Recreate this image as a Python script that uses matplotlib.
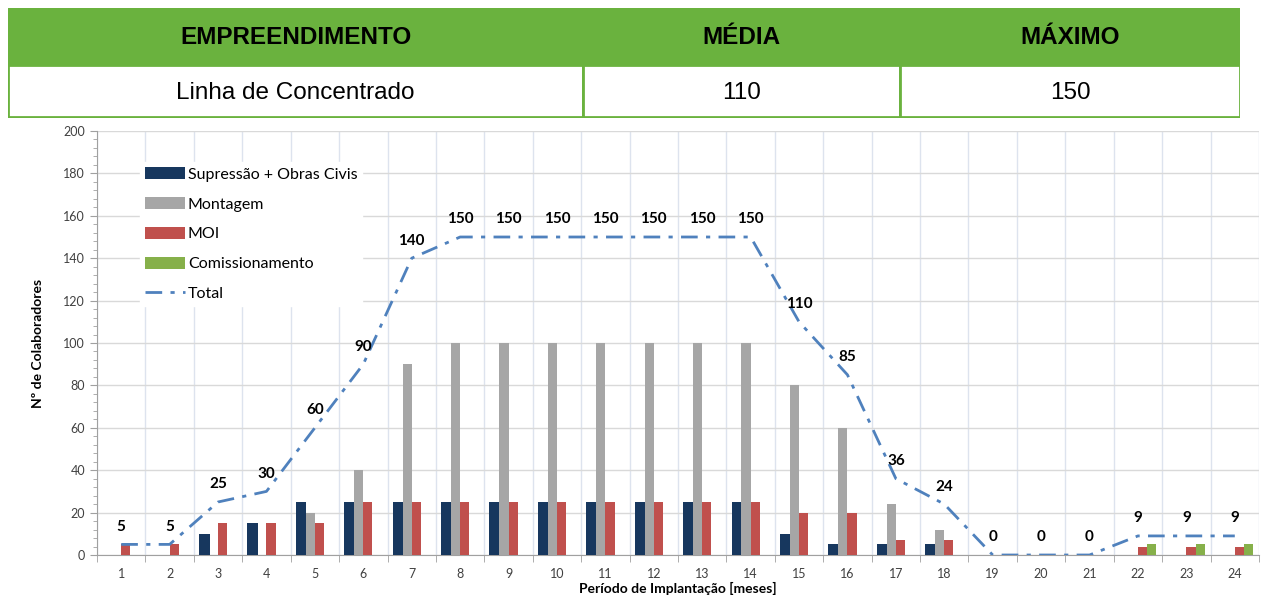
import matplotlib
matplotlib.use("Agg")
import matplotlib.pyplot as plt
import numpy as np
from matplotlib.patches import Rectangle
from matplotlib.ticker import MultipleLocator

plt.rcParams["font.family"] = ["Lato", "DejaVu Sans"]

# dados
meses = list(range(1, 25))
supressao = [0, 0, 10, 15, 25, 25, 25, 25, 25, 25, 25, 25, 25, 25, 10, 5, 5, 5, 0, 0, 0, 0, 0, 0]
montagem = [0, 0, 0, 0, 20, 40, 90, 100, 100, 100, 100, 100, 100, 100, 80, 60, 24, 12, 0, 0, 0, 0, 0, 0]
moi = [5, 5, 15, 15, 15, 25, 25, 25, 25, 25, 25, 25, 25, 25, 20, 20, 7, 7, 0, 0, 0, 4, 4, 4]
comissionamento = [0] * 21 + [5, 5, 5]
total = [5, 5, 25, 30, 60, 90, 140, 150, 150, 150, 150, 150, 150, 150, 110, 85, 36, 24, 0, 0, 0, 9, 9, 9]

tab_cab = ["EMPREENDIMENTO", "MÉDIA", "MÁXIMO"]
tab_lin = ["Linha de Concentrado", "110", "150"]

fig = plt.figure(figsize=(12.8, 6.06), dpi=100)

# tabela no topo
W, H = 1280, 606
tab = fig.add_axes([8 / W, 1 - 118 / H, 1232 / W, 110 / H])
tab.set_xlim(8, 1240)
tab.set_ylim(118, 8)
tab.axis("off")
verde = "#6ab23e"
cols = [8, 583, 900, 1240]
tab.add_patch(Rectangle((8, 8), 1232, 57, facecolor=verde, edgecolor=verde))
for i in range(3):
    tab.add_patch(Rectangle((cols[i], 65), cols[i + 1] - cols[i], 52,
                            facecolor="white", edgecolor=verde, lw=2))
    xc = (cols[i] + cols[i + 1]) / 2
    tab.text(xc, 38, tab_cab[i], ha="center", va="center", fontsize=17.5,
             fontweight="bold", family="Liberation Sans")
    tab.text(xc, 93, tab_lin[i], ha="center", va="center", fontsize=17.5,
             family="Liberation Sans")

# grafico
ax = fig.add_axes([97 / W, 1 - 555 / H, 1162 / W, 424 / H])
x = np.array(meses)
w = 0.19
b1 = ax.bar(x - 1.5 * w, supressao, w * 1.15, color="#17375e", label="Supressão + Obras Civis", zorder=3)
b2 = ax.bar(x - 0.5 * w, montagem, w, color="#a6a6a6", label="Montagem", zorder=3)
b3 = ax.bar(x + 0.5 * w, moi, w, color="#c0504d", label="MOI", zorder=3)
b4 = ax.bar(x + 1.5 * w, comissionamento, w, color="#86b04a", label="Comissionamento", zorder=3)
l1, = ax.plot(x, total, color="#4f81bd", ls=(0, (6, 3, 1.5, 3)), lw=2, label="Total", zorder=4)

for xi, t in zip(x, total):
    ax.text(xi, t + 5, str(t), ha="center", va="bottom", fontsize=11,
            fontweight="bold", zorder=5)

ax.set_xlim(0.5, 24.5)
ax.set_ylim(0, 200)
ax.set_xticks(meses)
ax.set_xticks(np.arange(0.5, 25, 1), minor=True)
ax.yaxis.set_major_locator(MultipleLocator(20))
ax.yaxis.set_minor_locator(MultipleLocator(4))
ax.tick_params(axis="x", which="major", length=0, labelsize=9, colors="#404040", pad=9)
ax.tick_params(axis="x", which="minor", length=5, color="#a0a0a0", direction="out")
ax.tick_params(axis="y", which="major", length=5, labelsize=9, colors="#404040", color="#a0a0a0")
ax.tick_params(axis="y", which="minor", length=3, color="#a0a0a0")
ax.grid(axis="y", which="major", color="#d9d9d9", lw=1, zorder=0)
ax.grid(axis="x", which="minor", color="#dde3ee", lw=1, zorder=0)
for s in ["top", "right"]:
    ax.spines[s].set_visible(False)
ax.spines["left"].set_color("#a0a0a0")
ax.spines["bottom"].set_color("#a0a0a0")

ax.set_xlabel("Período de Implantação [meses]", fontsize=10, fontweight="bold", labelpad=2)
ax.set_ylabel("Nº de Colaboradores", fontsize=10, fontweight="bold", labelpad=14)

leg = ax.legend([b1, b2, b3, b4, l1],
                ["Supressão + Obras Civis", "Montagem", "MOI", "Comissionamento", "Total"],
                loc="upper left", bbox_to_anchor=(0.03, 0.945), frameon=True,
                fontsize=11.5, handlelength=2.5, handleheight=0.8, labelspacing=0.95,
                handletextpad=0.2, borderpad=0.3)
leg.get_frame().set_facecolor("white")
leg.get_frame().set_edgecolor("white")
leg.get_frame().set_alpha(1)

fig.savefig("out.png", dpi=100)
